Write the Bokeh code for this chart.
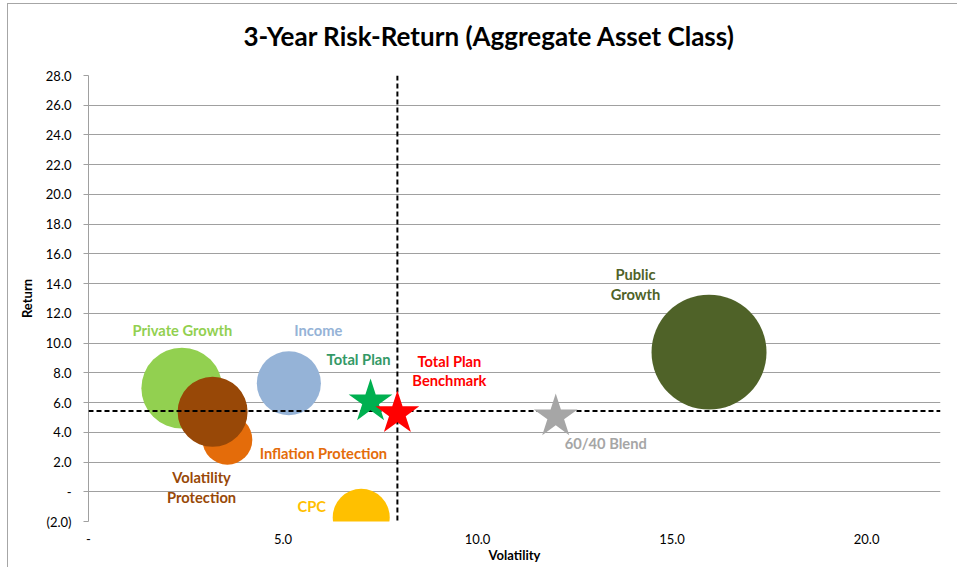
from bokeh.plotting import figure
from bokeh.models import Span, FixedTicker, ColumnDataSource, Range1d, Title
from bokeh.core.properties import value
from bokeh.embed import file_html
from bokeh.resources import INLINE
import math

# ---------------- data ----------------
asset_classes = ["Public Growth", "Private Growth", "Income", "Inflation Protection",
                 "Volatility Protection", "CPC"]
asset_label_text = ["Public\nGrowth", "Private Growth", "Income", "Inflation Protection",
                    "Volatility\nProtection", "CPC"]
asset_volatility = [15.95, 2.40, 5.15, 3.57, 3.19, 7.01]
asset_return = [9.39, 6.97, 7.30, 3.50, 5.38, -1.72]
asset_weight = [38.3, 19.0, 11.9, 7.2, 14.2, 9.4]

plan_names = ["Total Plan", "Total Plan Benchmark", "60/40 Blend"]
plan_label_text = ["Total Plan", "Total Plan\nBenchmark", "60/40 Blend"]
plan_volatility = [7.25, 7.94, 12.01]
plan_return = [6.07, 5.27, 5.06]

crosshair_volatility = 7.94
crosshair_return = 5.44

y_ticks = [-2, 0, 2, 4, 6, 8, 10, 12, 14, 16, 18, 20, 22, 24, 26, 28]
y_tick_labels = ["(2.0)", "-", "2.0", "4.0", "6.0", "8.0", "10.0", "12.0", "14.0",
                 "16.0", "18.0", "20.0", "22.0", "24.0", "26.0", "28.0"]
x_ticks = [0, 5, 10, 15, 20]
x_tick_labels = ["-", "5.0", "10.0", "15.0", "20.0"]

# ---------------- styles ----------------
FONT = "Lato"
asset_colors = ["#4F6228", "#92D050", "#95B3D7", "#E46C0A", "#984807", "#FFC000"]
asset_label_colors = ["#4F6228", "#92D050", "#95B3D7", "#E46C0A", "#984807", "#FFC000"]
asset_label_dx = [-73.5, 0.5, 29.5, 96, -11, -49.5]
asset_label_dy = [-68, -58.5, -53.5, 13, 75, -11.5]
plan_colors = ["#00B050", "#FF0000", "#A6A6A6"]
plan_label_colors = ["#339966", "#FF0000", "#A6A6A6"]
plan_label_dx = [-12, 52, 50]
plan_label_dy = [-43, -43, 26]
AREA_PER_UNIT = 86.3  # px^2 per weight unit

bubble_sizes = [2 * math.sqrt(w * AREA_PER_UNIT) for w in asset_weight]

asset_src = ColumnDataSource(dict(x=asset_volatility, y=asset_return, size=bubble_sizes,
                                  color=asset_colors, name=asset_classes,
                                  label=asset_label_text, lcolor=asset_label_colors,
                                  dx=asset_label_dx, dy=asset_label_dy))
plan_src = ColumnDataSource(dict(x=plan_volatility, y=plan_return, color=plan_colors,
                                 name=plan_names, label=plan_label_text,
                                 lcolor=plan_label_colors, dx=plan_label_dx, dy=plan_label_dy))

p = figure(width=950, height=564, output_backend="svg", toolbar_location=None,
           x_range=Range1d(0, 21.9), y_range=Range1d(-2, 28),
           min_border_left=80, min_border_right=18, min_border_top=71, min_border_bottom=47,
           outline_line_color=None, background_fill_color="white", border_fill_color="white",
           styles={"margin-left": "7px", "margin-top": "3px",
                   "border-left": "1px solid #A6A6A6", "border-top": "1px solid #A6A6A6"})

p.title = Title(text="3-Year Risk-Return (Aggregate Asset Class)", align="left", offset=155,
                text_font=FONT, text_font_size="26px", text_font_style="bold",
                text_color="#000000", standoff=2)
# invisible spacer between title and plot area
p.add_layout(Title(text=" ", text_font_size="1px", standoff=20), "above")

# grid
p.xgrid.visible = False
p.ygrid.ticker = FixedTicker(ticks=y_ticks)
p.ygrid.grid_line_color = "#A0A0A0"
p.ygrid.grid_line_width = 1

# y axis
p.yaxis.ticker = FixedTicker(ticks=y_ticks)
p.yaxis.major_label_overrides = {t: l for t, l in zip(y_ticks, y_tick_labels)}
p.yaxis.axis_line_color = "#A0A0A0"
p.yaxis.major_tick_line_color = "#A0A0A0"
p.yaxis.major_tick_out = 5
p.yaxis.major_tick_in = 0
p.yaxis.minor_tick_line_color = None
p.yaxis.major_label_standoff = 12
p.yaxis.major_label_text_font = FONT
p.yaxis.major_label_text_font_size = "13px"
p.yaxis.major_label_text_color = "#000000"
p.yaxis.axis_label = "Return"
p.yaxis.axis_label_text_font = FONT
p.yaxis.axis_label_text_font_size = "13px"
p.yaxis.axis_label_text_font_style = "bold"
p.yaxis.axis_label_text_color = "#000000"
p.yaxis.axis_label_standoff = 8

# x axis
p.xaxis.ticker = FixedTicker(ticks=x_ticks)
p.xaxis.major_label_overrides = {t: l for t, l in zip(x_ticks, x_tick_labels)}
p.xaxis.axis_line_color = None
p.xaxis.major_tick_line_color = None
p.xaxis.minor_tick_line_color = None
p.xaxis.major_tick_out = 0
p.xaxis.major_tick_in = 0
p.xaxis.major_label_standoff = 12
p.xaxis.major_label_text_font = FONT
p.xaxis.major_label_text_font_size = "13px"
p.xaxis.major_label_text_color = "#000000"
p.xaxis.axis_label = "Volatility"
p.xaxis.axis_label_text_font = FONT
p.xaxis.axis_label_text_font_size = "13px"
p.xaxis.axis_label_text_font_style = "bold"
p.xaxis.axis_label_text_color = "#000000"
p.xaxis.axis_label_standoff = 0

# bubbles
p.scatter(x="x", y="y", size="size", marker="circle", fill_color="color",
          line_color=None, source=asset_src)

# crosshair lines
p.add_layout(Span(location=crosshair_volatility, dimension="height", line_color="black",
                  line_width=2, line_dash="5 3"))
p.add_layout(Span(location=crosshair_return, dimension="width", line_color="black",
                  line_width=2, line_dash="5 3"))

# stars (drawn above the crosshair lines)
p.scatter(x="x", y="y", size=46, marker="star", fill_color="color", line_color=None,
          source=plan_src, level="overlay")

# labels
for src in (asset_src, plan_src):
    p.text(x="x", y="y", text="label", text_color="lcolor", x_offset="dx", y_offset="dy",
           text_font=value(FONT), text_font_size="14.7px", text_font_style="bold",
           text_align="center", text_baseline="middle", text_line_height=1.08, source=src,
           level="overlay")

open("out.html", "w").write(file_html(p, INLINE))
